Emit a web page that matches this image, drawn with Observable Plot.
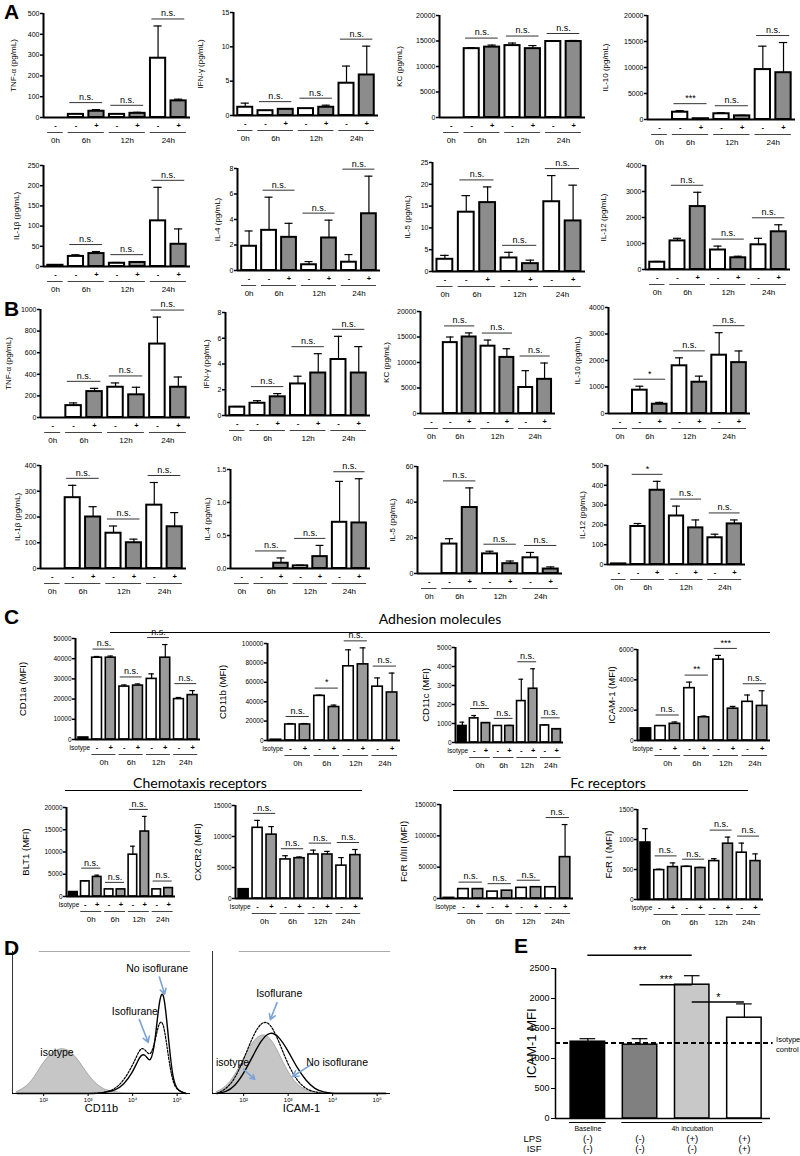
<!DOCTYPE html>
<html><head><meta charset="utf-8">
<script src="https://cdn.jsdelivr.net/npm/d3@7"></script>
<script src="https://cdn.jsdelivr.net/npm/@observablehq/plot@0.6"></script>
<style>
body{margin:0;background:#fff;}
#fig{position:relative;width:800px;height:1156px;overflow:hidden;font-family:"Liberation Sans",Arial,sans-serif;background:#fff;}
.lt{position:absolute;font-weight:bold;font-size:21px;line-height:22px;font-family:"Liberation Sans",Arial,sans-serif;}
.sec{position:absolute;font-family:Lato,"Open Sans",sans-serif;font-size:14px;white-space:nowrap;transform:translateX(-50%);}
.secline{position:absolute;height:0;border-top:1.5px solid #000;}
</style></head><body><div id="fig"></div>
<script>
// ---------------- DATA ----------------
const timeGroups = ["0h", "6h", "12h", "24h"];
const signsAB = ["-", "-", "+", "-", "+", "-", "+"];
const signsC = ["", "-", "+", "-", "+", "-", "+", "-", "+"];

// Panel A
const aLabels = ["TNF-α (pg/mL)", "IFN-γ (pg/mL)", "KC (pg/mL)", "IL-10 (pg/mL)", "IL-1β (pg/mL)", "IL-4 (pg/mL)", "IL-5 (pg/mL)", "IL-12 (pg/mL)"];
const aTicks = [[0,100,200,300,400,500],[0,5,10,15],[0,5000,10000,15000,20000],[0,5000,10000,15000,20000],[0,50,100,150,200,250],[0,2,4,6,8],[0,5,10,15,20,25],[0,1000,2000,3000,4000]];
const aMeans = [
  [0, 15, 30, 15, 20, 285, 80],
  [1.2, 0.7, 0.9, 1.0, 1.2, 4.7, 5.9],
  [0, 13500, 13800, 14100, 13500, 14900, 14900],
  [0, 1400, 150, 1100, 700, 9600, 9000],
  [3, 25, 32, 8, 10, 113, 55],
  [1.9, 3.15, 2.6, 0.45, 2.55, 0.65, 4.45],
  [2.8, 13.6, 15.8, 3.1, 1.8, 16, 11.6],
  [280, 1100, 2420, 750, 450, 950, 1450]];
const aErrs = [
  [0, 0, 8, 0, 5, 155, 8],
  [0.6, 0, 0.1, 0, 0.3, 2.5, 4.2],
  [0, 200, 400, 500, 600, 100, 200],
  [0, 300, 0, 200, 100, 4500, 5800],
  [0, 4, 5, 2, 2, 83, 38],
  [1.2, 2.6, 1.1, 0.25, 1.4, 0.6, 2.95],
  [0.9, 3.8, 3.6, 1.3, 0.8, 6, 8.2],
  [30, 100, 550, 150, 60, 250, 270]];
const aSigs = [
  ["n.s.","n.s.","n.s."],["n.s.","n.s.","n.s."],["n.s.","n.s.","n.s."],["***","n.s.","n.s."],
  ["n.s.","n.s.","n.s."],["n.s.","n.s.","n.s."],["n.s.","n.s.","n.s."],["n.s.","n.s.","n.s."]];

// Panel B
const bLabels = ["TNF-α (pg/mL)", "IFN-γ (pg/mL)", "KC (pg/mL)", "IL-10 (pg/mL)", "IL-1β (pg/mL)", "IL-4 (pg/mL)", "IL-5 (pg/mL)", "IL-12 (pg/mL)"];
const bTicks = [[0,200,400,600,800,1000],[0,2,4,6,8],[0,5000,10000,15000,20000],[0,1000,2000,3000,4000],[0,100,200,300,400],[0,0.5,1.0,1.5],[0,20,40,60],[0,100,200,300,400,500]];
const bMeans = [
  [0, 110, 240, 280, 210, 680, 280],
  [0.65, 0.95, 1.45, 2.45, 3.3, 4.35, 3.3],
  [0, 13900, 15000, 13200, 11000, 5100, 6700],
  [0, 880, 350, 1800, 1180, 2200, 1920],
  [0, 275, 200, 137, 100, 246, 162],
  [0, 0, 0.08, 0.04, 0.18, 0.7, 0.69],
  [0, 16.5, 37, 11, 5.5, 8.8, 2.5],
  [3, 192, 375, 245, 185, 135, 205]];
const bErrs = [
  [0, 25, 30, 40, 70, 250, 95],
  [0.05, 0.2, 0.25, 0.6, 1.5, 1.8, 2.05],
  [0, 1100, 800, 1200, 1700, 3300, 3200],
  [0, 150, 70, 300, 230, 850, 440],
  [0, 48, 40, 28, 14, 88, 55],
  [0, 0, 0.08, 0.01, 0.17, 0.62, 0.67],
  [0, 3, 11, 1.5, 1.5, 3, 1.2],
  [0, 15, 45, 50, 40, 18, 20]];
const bSigs = [
  ["n.s.","n.s.","n.s."],["n.s.","n.s.","n.s."],["n.s.","n.s.","n.s."],["*","n.s.","n.s."],
  ["n.s.","n.s.","n.s."],["n.s.","n.s.","n.s."],["n.s.","n.s.","n.s."],["*","n.s.","n.s."]];

// Panel C
const cLabels = ["CD11a (MFI)", "CD11b (MFI)", "CD11c (MFI)", "ICAM-1 (MFI)", "BLT1 (MFI)", "CXCR2 (MFI)", "FcR II/III (MFI)", "FcR I (MFI)"];
const cTicks = [[0,10000,20000,30000,40000,50000],[0,20000,40000,60000,80000,100000],[0,1000,2000,3000,4000,5000],[0,2000,4000,6000],[0,5000,10000,15000,20000],[0,5000,10000,15000],[0,50000,100000,150000],[0,500,1000,1500]];
const cMeans = [
  [1000, 40500, 40500, 26200, 26700, 30000, 40500, 20000, 22000],
  [800, 16500, 16500, 46000, 34500, 76500, 78500, 55500, 49500],
  [870, 1270, 1020, 870, 870, 2180, 2830, 900, 700],
  [800, 950, 1100, 3450, 1530, 5330, 2100, 2550, 2280],
  [1000, 3400, 4400, 1600, 1600, 9400, 14600, 1600, 1900],
  [1500, 11400, 10300, 6300, 6500, 7100, 7100, 5300, 7000],
  [1000, 15000, 15000, 11000, 12500, 17000, 18000, 18000, 66000],
  [950, 490, 540, 545, 525, 640, 930, 780, 640]];
const cErrs = [
  [0, 600, 800, 800, 800, 2500, 6500, 800, 2200],
  [0, 1000, 1000, 800, 2000, 17000, 17000, 9000, 20000],
  [200, 150, 30, 0, 30, 1150, 1050, 30, 20],
  [0, 0, 120, 400, 80, 280, 150, 450, 1000],
  [0, 150, 400, 0, 0, 1900, 3400, 0, 0],
  [0, 1200, 1300, 600, 200, 700, 500, 1300, 900],
  [0, 0, 0, 0, 0, 0, 0, 0, 52000],
  [230, 15, 70, 10, 10, 40, 110, 160, 120]];
const cSigs = [
  ["n.s.","n.s.","n.s.","n.s."],["n.s.","*","n.s.","n.s."],["n.s.","n.s.","n.s.","n.s."],["n.s.","**","***","n.s."],
  ["n.s.","n.s.","n.s.","n.s."],["n.s.","n.s.","n.s.","n.s."],["n.s.","n.s.","n.s.","n.s."],["n.s.","n.s.","n.s.","n.s."]];

// Panel D (histograms, x = log10 fluorescence, y = % of max)
const dX = [1.4, 1.6, 1.8, 2.0, 2.2, 2.4, 2.6, 2.8, 3.0, 3.2, 3.4, 3.6, 3.8, 4.0, 4.1, 4.2, 4.3, 4.4, 4.5, 4.6, 4.7, 4.8, 4.9, 5.0, 5.2];
const dCD11bIso = [1, 4, 11, 22, 29, 32, 30, 23, 13, 6, 2, 1, 0, 0, 0, 0, 0, 0, 0, 0, 0, 0, 0, 0, 0];
const dCD11bIsf = [0, 0, 0, 0, 0, 0, 0, 0, 0, 0, 1, 3, 9, 20, 27, 33, 30, 26, 36, 52, 50, 26, 8, 2, 0];
const dCD11bNo  = [0, 0, 0, 0, 0, 0, 0, 0, 0, 0, 1, 2, 6, 15, 22, 28, 27, 21, 34, 68, 74, 40, 10, 2, 0];
const dICAMIso = [1, 4, 12, 24, 36, 42, 40, 28, 15, 6, 2, 1, 0, 0, 0, 0, 0, 0, 0, 0, 0, 0, 0, 0, 0];
const dICAMIsf = [0, 3, 10, 24, 40, 51, 50, 36, 20, 9, 3, 1, 0, 0, 0, 0, 0, 0, 0, 0, 0, 0, 0, 0, 0];
const dICAMNo  = [0, 1, 5, 14, 26, 38, 44, 40, 30, 18, 9, 3, 1, 0, 0, 0, 0, 0, 0, 0, 0, 0, 0, 0, 0];

// Panel E
const eGroups = ["Baseline", "4h incubation"];
const eMeans = [1280, 1230, 2230, 1680];
const eErrs = [50, 100, 150, 230];
const eLPS = ["(-)", "(-)", "(+)", "(+)"];
const eISF = ["(-)", "(-)", "(-)", "(+)"];
const eIsotype = 1260;
// [from bar, to bar, label, bracket height (MFI)]
const eSigs = [[0, 2, "***", 2720], [1, 2, "***", 2230], [2, 3, "*", 1940]];
const eTicks = [0, 500, 1000, 1500, 2000, 2500];

// ---------------- LAYOUT (pixel positions: axis x, y of 0, right x, y of max, label offset) ----------------
const layA = [[43,117,190,13,30],[233,115,378,12,33],[439,117,585,15,40],[647,119,795,15,42],
              [43,266,190,165,27],[237,270,380,168,20],[432,271,585,162,25],[645,269,790,165,42]];
const layB = [[40,417,190,309,32],[225,415,370,312,19],[420,413,555,311,34],[608,413,750,307,31],
              [40,568,186,465,23],[230,568,370,469,23],[417,573,562,466,25],[607,564,745,465,25]];
const layC = [[75,739,200,638,53],[267,740,400,643,45],[455,742,563,647,30],[637,740,770,649,26],
              [66,896,175,807,41],[235,898,363,805,38],[440,898,573,804,37],[637,899,763,809,29]];

const fig = document.getElementById("fig");
const FONT = "'Liberation Sans', Arial, sans-serif";
function put(node, left, top) {
  node.style.position = "absolute";
  node.style.left = left + "px";
  node.style.top = top + "px";
  node.style.overflow = "visible";
  fig.appendChild(node);
}
function addDiv(cls, text, left, top, extra) {
  const d = document.createElement("div");
  d.className = cls; d.textContent = text;
  d.style.left = left + "px"; d.style.top = top + "px";
  if (extra) Object.assign(d.style, extra);
  fig.appendChild(d);
}

function barPanel(lay, label, ticks, means, errs, sigs, kind) {
  const [ax, y0, rx, yt, labOff] = lay;
  const n = means.length;
  const ymax = ticks[ticks.length - 1];
  const mL = 60, mR = 12, mT = 30, mB = 34;
  const ph = y0 - yt;
  const u = ymax / ph;
  const xmin = -0.58, xmax = n - 0.42;
  const isC = kind === "C";
  const grey = isC ? "#9a9a9a" : "#8c8c8c";
  const rows = means.map((m, i) => ({i, m, e: errs[i], top: m + errs[i],
    fill: isC ? (i === 0 ? "#000" : (i % 2 ? "#fff" : grey)) : (i === 0 || i % 2 ? "#fff" : grey)}));
  const signs = isC ? signsC : signsAB;
  const groupIdx = isC ? [[1,2],[3,4],[5,6],[7,8]] : [[0,0],[1,2],[3,4],[5,6]];
  const pairIdx = isC ? [[1,2],[3,4],[5,6],[7,8]] : [[1,2],[3,4],[5,6]];
  const groups = groupIdx.map((g, k) => ({a: g[0], b: g[1], t: timeGroups[k]}));
  const pairs = pairIdx.map((p, k) => ({a: p[0], b: p[1], s: sigs[k],
    y: Math.max(rows[p[0]].top, rows[p[1]].top) + 7 * u}));
  const fmt = ticks.some(t => !Number.isInteger(t)) ? d3.format(".1f") : d => String(d);
  const bw = isC ? 0.36 : 0.37;
  const sw = isC ? 1.6 : 2;
  const plot = Plot.plot({
    width: rx - ax + mL + mR, height: ph + mT + mB,
    marginLeft: mL, marginRight: mR, marginTop: mT, marginBottom: mB,
    x: {domain: [xmin, xmax], axis: null},
    y: {domain: [0, ymax], axis: null},
    style: {fontFamily: FONT, fontSize: "7px", background: "none", overflow: "visible", color: "#000"},
    marks: [
      Plot.rect(rows, {x1: d => d.i - bw, x2: d => d.i + bw, y1: () => 0, y2: "m", fill: "fill", stroke: "#000", strokeWidth: sw}),
      Plot.ruleX(rows.filter(d => d.e > 0), {x: "i", y1: "m", y2: "top", stroke: "#000", strokeWidth: 1.2}),
      Plot.ruleY(rows.filter(d => d.e > 0), {y: "top", x1: d => d.i - 0.2, x2: d => d.i + 0.2, stroke: "#000", strokeWidth: 1.2}),
      Plot.ruleX([xmin], {y1: 0, y2: ymax, stroke: "#000", strokeWidth: 2}),
      Plot.ruleY([0], {x1: xmin, x2: xmax, stroke: "#000", strokeWidth: 2}),
      Plot.axisY({ticks, tickFormat: fmt, tickSize: 3, tickPadding: 1, strokeWidth: 1.5, fontSize: isC ? 6.5 : 7, label: null}),
      Plot.text([label], {frameAnchor: "left", rotate: -90, dx: -labOff, text: d => d, textAnchor: "middle", fontSize: isC ? 9.5 : 8}),
      Plot.text(rows, {x: "i", y: () => 0, text: d => signs[d.i], dy: 8, fontSize: 7.5, fontWeight: "bold"}),
      Plot.ruleY(groups, {y: () => 0, x1: d => d.a - 0.38, x2: d => d.b + 0.38, dy: 15, stroke: "#444", strokeWidth: 1}),
      Plot.text(groups, {x: d => (d.a + d.b) / 2, y: () => 0, text: "t", dy: 22.5, fontSize: 8}),
      Plot.ruleY(pairs, {y: "y", x1: d => d.a - 0.3, x2: d => d.b + 0.3, stroke: "#333", strokeWidth: 1}),
      Plot.text(pairs, {x: d => (d.a + d.b) / 2, y: "y", text: "s", dy: -5.5, fontSize: 9}),
      ...(isC ? [Plot.text(["Isotype"], {x: () => 0.5, y: () => 0, text: d => d, dy: 8, textAnchor: "end", fontSize: 6.5})] : [])
    ]
  });
  put(plot, ax - mL, yt - mT);
}

for (let k = 0; k < 8; k++) barPanel(layA[k], aLabels[k], aTicks[k], aMeans[k], aErrs[k], aSigs[k], "AB");
for (let k = 0; k < 8; k++) barPanel(layB[k], bLabels[k], bTicks[k], bMeans[k], bErrs[k], bSigs[k], "AB");
for (let k = 0; k < 8; k++) barPanel(layC[k], cLabels[k], cTicks[k], cMeans[k], cErrs[k], cSigs[k], "C");

// ---------------- Panel D ----------------
const SUP = {2: "²", 3: "³", 4: "⁴", 5: "⁵"};
function histPanel(left, top, w, h, iso, isf, no, xlabel, notes, arrows) {
  const mL = 4, mR = 6, mT = 4, mB = 30;
  const rowsOf = arr => dX.map((x, i) => ({x, y: arr[i]}));
  const plot = Plot.plot({
    width: w + mL + mR, height: h + mT + mB,
    marginLeft: mL, marginRight: mR, marginTop: mT, marginBottom: mB,
    x: {domain: [1.3, 5.3], axis: null},
    y: {domain: [0, 100], axis: null},
    style: {fontFamily: FONT, fontSize: "7px", background: "none", overflow: "visible"},
    marks: [
      Plot.areaY(rowsOf(iso), {x: "x", y: "y", fill: "#c6c6c6", stroke: "#9a9a9a", strokeWidth: 0.8, curve: "basis"}),
      Plot.lineY(rowsOf(isf), {x: "x", y: "y", stroke: "#000", strokeWidth: 1.2, strokeDasharray: "2,1.5", curve: "basis"}),
      Plot.lineY(rowsOf(no), {x: "x", y: "y", stroke: "#000", strokeWidth: 1.4, curve: "basis"}),
      Plot.ruleY([0], {stroke: "#000", strokeWidth: 1}),
      Plot.ruleX([1.3], {stroke: "#000", strokeWidth: 0.8}),
      Plot.ruleY([100], {x1: 1.9, x2: 5.3, stroke: "#aaa", strokeWidth: 1}),
      Plot.axisX({ticks: [2, 3, 4, 5], tickFormat: d => "10" + SUP[d], tickSize: 3, tickPadding: 1, fontSize: 6, label: null}),
      Plot.text([xlabel], {frameAnchor: "bottom", dy: 18, text: d => d, fontSize: 11}),
      Plot.arrow(arrows, {x1: "ax1", y1: "ay1", x2: "ax2", y2: "ay2", stroke: "#7ba3d6", strokeWidth: 1.6, headLength: 6}),
      Plot.text(notes, {x: "tx", y: "ty", text: "t", fontSize: 10.5})
    ]
  });
  put(plot, left - mL, top - mT);
}
const dNotesCD11b = [
  {t: "No isoflurane", tx: 4.55, ty: 88},
  {t: "Isoflurane", tx: 4.05, ty: 58},
  {t: "isotype", tx: 2.3, ty: 29}
];
const dArrowsCD11b = [
  {ax1: 4.6, ay1: 82, ax2: 4.72, ay2: 70},
  {ax1: 4.15, ay1: 52, ax2: 4.35, ay2: 36}
];
const dNotesICAM = [
  {t: "Isoflurane", tx: 2.8, ty: 70},
  {t: "No isoflurane", tx: 4.1, ty: 22},
  {t: "isotype", tx: 1.75, ty: 22}
];
const dArrowsICAM = [
  {ax1: 2.75, ay1: 64, ax2: 2.6, ay2: 52},
  {ax1: 3.5, ay1: 20, ax2: 3.1, ay2: 12},
  {ax1: 2.0, ay1: 17, ax2: 2.25, ay2: 10}
];
histPanel(12, 951, 178, 142, dCD11bIso, dCD11bIsf, dCD11bNo, "CD11b", dNotesCD11b, dArrowsCD11b);
histPanel(212, 951, 178, 142, dICAMIso, dICAMIsf, dICAMNo, "ICAM-1", dNotesICAM, dArrowsICAM);

// ---------------- Panel E ----------------
(function () {
  const ax = 555, y0 = 1118, rx = 770, yt = 968;
  const mL = 50, mR = 30, mT = 30, mB = 34;
  const ph = y0 - yt, ymax = 2500;
  const xmin = -0.62, xmax = 3.5;
  const fills = ["#000", "#808080", "#c8c8c8", "#fff"];
  const rows = eMeans.map((m, i) => ({i, m, top: m + eErrs[i], fill: fills[i]}));
  const sigs = eSigs.map(([a, b, s, y]) => ({a, b, s, y}));
  const grp = [{a: 0, b: 0, t: eGroups[0]}, {a: 1, b: 3, t: eGroups[1]}];
  const plot = Plot.plot({
    width: rx - ax + mL + mR, height: ph + mT + mB,
    marginLeft: mL, marginRight: mR, marginTop: mT, marginBottom: mB,
    x: {domain: [xmin, xmax], axis: null},
    y: {domain: [0, ymax], axis: null},
    style: {fontFamily: FONT, fontSize: "9px", background: "none", overflow: "visible"},
    marks: [
      Plot.rect(rows, {x1: d => d.i - 0.33, x2: d => d.i + 0.33, y1: () => 0, y2: "m", fill: "fill", stroke: "#000", strokeWidth: 1.5}),
      Plot.ruleX(rows, {x: "i", y1: "m", y2: "top", stroke: "#000", strokeWidth: 1.2}),
      Plot.ruleY(rows, {y: "top", x1: d => d.i - 0.15, x2: d => d.i + 0.15, stroke: "#000", strokeWidth: 1.2}),
      Plot.ruleY([eIsotype], {x1: xmin, x2: xmax + 0.05, stroke: "#000", strokeWidth: 2, strokeDasharray: "5,3"}),
      Plot.text(["Isotype"], {x: () => xmax + 0.05, y: () => eIsotype, text: d => d, dx: 3, dy: -1, textAnchor: "start", fontSize: 7.5, lineAnchor: "bottom"}),
      Plot.text(["control"], {x: () => xmax + 0.05, y: () => eIsotype, text: d => d, dx: 3, dy: 4, textAnchor: "start", fontSize: 7.5, lineAnchor: "top"}),
      Plot.ruleX([xmin], {y1: 0, y2: ymax, stroke: "#000", strokeWidth: 1.5}),
      Plot.ruleY([0], {x1: xmin, x2: xmax, stroke: "#000", strokeWidth: 1.5}),
      Plot.axisY({ticks: eTicks, tickFormat: d => String(d), tickSize: 4, tickPadding: 2, fontSize: 9, label: null}),
      Plot.text(["ICAM-1 MFI"], {frameAnchor: "left", rotate: -90, dx: -24, text: d => d, textAnchor: "middle", fontSize: 13}),
      Plot.ruleY(sigs, {y: "y", x1: d => d.a, x2: d => d.b, stroke: "#000", strokeWidth: 1.5}),
      Plot.text(sigs, {x: d => (d.a + d.b) / 2, y: "y", text: "s", dy: -5, fontSize: 11}),
      Plot.ruleY(grp, {y: () => 0, x1: d => d.a - 0.35, x2: d => d.b + 0.35, dy: 4, stroke: "#000", strokeWidth: 1}),
      Plot.text(grp, {x: d => (d.a + d.b) / 2, y: () => 0, text: "t", dy: 10, fontSize: 7}),
      Plot.text(rows, {x: "i", y: () => 0, text: d => eLPS[d.i], dy: 20, fontSize: 9.5}),
      Plot.text(rows, {x: "i", y: () => 0, text: d => eISF[d.i], dy: 30.5, fontSize: 9.5}),
      Plot.text(["LPS"], {x: () => xmin, y: () => 0, text: d => d, dx: -14, dy: 20, textAnchor: "end", fontSize: 9.5}),
      Plot.text(["ISF"], {x: () => xmin, y: () => 0, text: d => d, dx: -14, dy: 30.5, textAnchor: "end", fontSize: 9.5})
    ]
  });
  put(plot, ax - mL, yt - mT);
})();

// ---------------- Letters & section titles ----------------
addDiv("lt", "A", 4, 1);
addDiv("lt", "B", 4, 298);
addDiv("lt", "C", 4, 606);
addDiv("lt", "D", 4, 937);
addDiv("lt", "E", 514, 935);
addDiv("sec", "Adhesion molecules", 440, 610);
addDiv("secline", "", 110, 632, {width: "660px"});
addDiv("sec", "Chemotaxis receptors", 200, 774);
addDiv("secline", "", 65, 790, {width: "297px"});
addDiv("sec", "Fc receptors", 608, 774);
addDiv("secline", "", 453, 790, {width: "295px"});
</script></body></html>
